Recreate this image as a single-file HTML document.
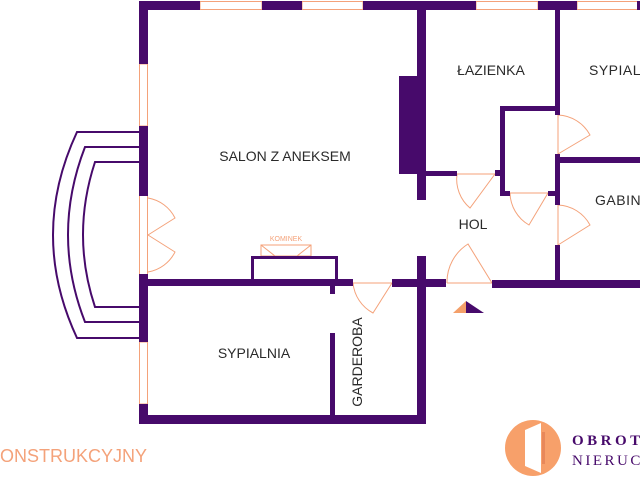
<!DOCTYPE html>
<html><head><meta charset="utf-8"><style>
html,body{margin:0;padding:0;background:#fff;width:640px;height:480px;overflow:hidden}
svg{display:block}
</style></head><body>
<svg width="640" height="480" viewBox="0 0 640 480" xmlns="http://www.w3.org/2000/svg" font-family="Liberation Sans, sans-serif">
<g fill="#fff" stroke="#f4a27a" stroke-width="1">
<rect x="200" y="1.5" width="62" height="8"/>
<rect x="302" y="1.5" width="61" height="8"/>
<rect x="476" y="1.5" width="62" height="8"/>
<rect x="577" y="1.5" width="62" height="8"/>
<rect x="139.5" y="64" width="8" height="62"/>
<rect x="139.5" y="342" width="8" height="62"/>
<line x1="139.5" y1="196" x2="139.5" y2="274"/>
<line x1="147.5" y1="196" x2="147.5" y2="274"/>
</g>
<g fill="none" stroke="#f4a27a" stroke-width="1">
<path d="M148 198 A37 37 0 0 1 175 218 L148 235"/>
<path d="M148 235 L175 252 A37 37 0 0 1 148 272"/>
<rect x="261" y="245" width="50" height="11"/>
<path d="M261 245 L275 256 M311 245 L297 256"/>
<path d="M353 283 L392 283 M353 283 A38 38 0 0 0 373 313 L392 283"/>
<path d="M447 283 L492 283 M447 283 A45 45 0 0 1 468 244 L492 283"/>
<path d="M457 174 L495 174 M457 174 A38 38 0 0 0 470 208 L495 174"/>
<path d="M510 193 L548 193 M510 193 A38 38 0 0 0 529 225 L548 193"/>
<path d="M558 115 L558 154 M558 115 A38 38 0 0 1 590 135 L558 154"/>
<path d="M558 205 L558 245 M558 205 A38 38 0 0 1 590 225 L558 245"/>
</g>
<g fill="#470a6b">
<rect x="139" y="1" width="61" height="9"/>
<rect x="262" y="1" width="40" height="9"/>
<rect x="363" y="1" width="113" height="9"/>
<rect x="538" y="1" width="39" height="9"/>
<rect x="637" y="1" width="3" height="9"/>
<rect x="139" y="1" width="9" height="63"/>
<rect x="139" y="126" width="9" height="70"/>
<rect x="139" y="274" width="9" height="68"/>
<rect x="139" y="404" width="9" height="20"/>
<rect x="139" y="415" width="287" height="9"/>
<rect x="417" y="256" width="9" height="168"/>
<rect x="148" y="279" width="205" height="7"/>
<rect x="392" y="279" width="54" height="8"/>
<rect x="492" y="280" width="148" height="8"/>
<rect x="330" y="280" width="5" height="14"/>
<rect x="330" y="333" width="5" height="84"/>
<rect x="417" y="10" width="9" height="190"/>
<rect x="399" y="76" width="27" height="98"/>
<rect x="426" y="171" width="31" height="5"/>
<rect x="495" y="170" width="10" height="6"/>
<rect x="500" y="106" width="5" height="89"/>
<rect x="500" y="106" width="57" height="5"/>
<rect x="500" y="191" width="10" height="5"/>
<rect x="548" y="191" width="9" height="5"/>
<rect x="555" y="10" width="5" height="105"/>
<rect x="555" y="154" width="5" height="51"/>
<rect x="555" y="245" width="5" height="38"/>
<rect x="557" y="157" width="83" height="6"/>
</g>
<rect x="252.5" y="257.5" width="84" height="23" fill="none" stroke="#470a6b" stroke-width="3"/>
<g fill="none" stroke="#470a6b" stroke-width="2">
<path d="M139 132 L77 132 Q29 235 77 338 L139 338"/>
<path d="M139 147 L85 147 Q51 235 85 322 L139 322"/>
<path d="M139 162 L95 162 Q71 235 95 307 L139 307"/>
</g>
<polygon points="466,301 453,313 466,313" fill="#f4a06a"/>
<polygon points="466,301 466,313 484,313" fill="#470a6b"/>
<g fill="#2a2a2a" font-size="14">
<text x="285" y="161" text-anchor="middle">SALON Z ANEKSEM</text>
<text x="491" y="75" text-anchor="middle">ŁAZIENKA</text>
<text x="589" y="75" letter-spacing="0.5">SYPIALNIA</text>
<text x="595" y="205" letter-spacing="0.5">GABINET</text>
<text x="473" y="229" text-anchor="middle">HOL</text>
<text x="254" y="358" text-anchor="middle">SYPIALNIA</text>
<text transform="translate(362,362) rotate(-90)" text-anchor="middle">GARDEROBA</text>
</g>
<text x="286" y="241" font-size="7" fill="#f4a27a" text-anchor="middle">KOMINEK</text>
<text x="-12" y="462" font-size="18" fill="#f4a27a">KONSTRUKCYJNY</text>
<circle cx="533" cy="448" r="28" fill="#f7a06a"/>
<polygon points="525,430 541,423 541,473 525,466" fill="#fff"/>
<rect x="542" y="432" width="3" height="32" fill="#e8885a"/>
<text x="572" y="445" font-family="Liberation Serif, serif" font-weight="bold" font-size="15" fill="#470a6b" letter-spacing="3.5">OBROTY</text>
<text x="572" y="465" font-family="Liberation Serif, serif" font-size="15" fill="#470a6b" letter-spacing="2.5">NIERUCHOMOŚCI</text>
</svg>
</body></html>
